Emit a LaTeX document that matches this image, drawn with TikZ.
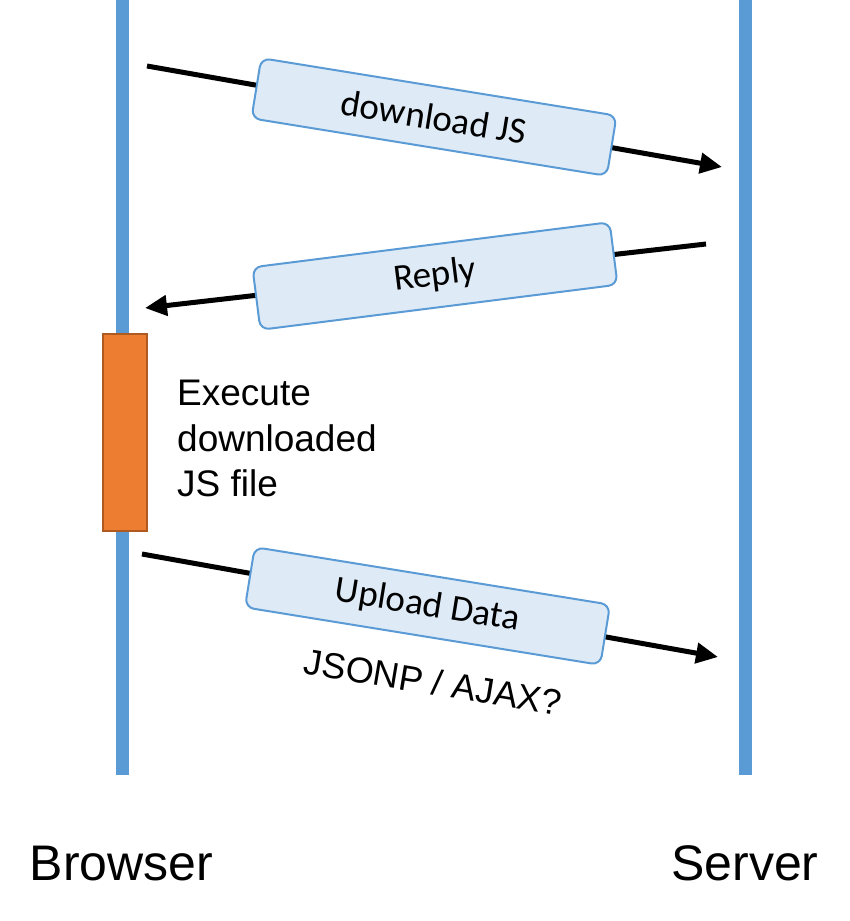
\documentclass[tikz,border=0pt]{standalone}
\usepackage{fontspec}
\setmainfont{Liberation Sans}
\newfontfamily\calib{Carlito}
\usetikzlibrary{arrows.meta}
\definecolor{lifeblue}{HTML}{5B9BD5}
\definecolor{msgfill}{HTML}{DEEBF7}
\definecolor{actfill}{HTML}{ED7D31}
\definecolor{actdraw}{HTML}{AE5A21}
\tikzset{
  lifeline/.style={line width=13pt, draw=lifeblue},
  msgarrow/.style={line width=5pt, draw=black, -{Triangle[length=22pt,width=20pt]}},
  msgbox/.style={draw=lifeblue, fill=msgfill, line width=2pt, rounded corners=9pt,
    minimum width=360pt, minimum height=61pt, inner sep=0pt,
    font=\calib\fontsize{37}{44}\selectfont},
  actbox/.style={draw=actdraw, fill=actfill, line width=2pt},
  bigtext/.style={font=\fontsize{50}{60}\selectfont, inner sep=0pt, anchor=base},
}
\begin{document}
\begin{tikzpicture}[x=1pt,y=-1pt]
\useasboundingbox (0,0) rectangle (850,921);
% lifelines
\coordinate (bt) at (122.5,0);
\coordinate (bb) at (122.5,775);
\coordinate (st) at (745.5,0);
\coordinate (sb) at (745.5,775);
\draw[lifeline] (bt) -- (bb);
\draw[lifeline] (st) -- (sb);
% activation
\node[actbox, minimum width=44pt, minimum height=197pt, inner sep=0pt] (act) at (125,432.5) {};
% message 1
\coordinate (m1s) at (147,66);
\coordinate (m1e) at (722,167);
\draw[msgarrow] (m1s) -- (m1e);
\node[msgbox, rotate=-9.2] (m1) at (434,117) {download JS};
% message 2
\coordinate (m2s) at (706,244);
\coordinate (m2e) at (145,308);
\draw[msgarrow] (m2s) -- (m2e);
\node[msgbox, rotate=7.2, minimum height=63pt] (m2) at (435,276) {Reply};
% message 3
\coordinate (m3s) at (142,554);
\coordinate (m3e) at (718,657);
\draw[msgarrow] (m3s) -- (m3e);
\node[msgbox, rotate=-9.2] (m3) at (427.5,606) {Upload Data};
\node[font=\fontsize{36}{43}\selectfont, rotate=-9.5, inner sep=0pt] (proto) at (433,682) {JSONP / AJAX?};
% execute note
\node[font=\fontsize{37}{45.5}\selectfont, align=left, anchor=north west, inner sep=0pt] (exec) at (177,380) {Execute\\downloaded\\JS file};
% labels
\node[bigtext] (browser) at (121.5,880) {Browser};
\node[bigtext] (server) at (745,880) {Server};
\end{tikzpicture}
\end{document}
